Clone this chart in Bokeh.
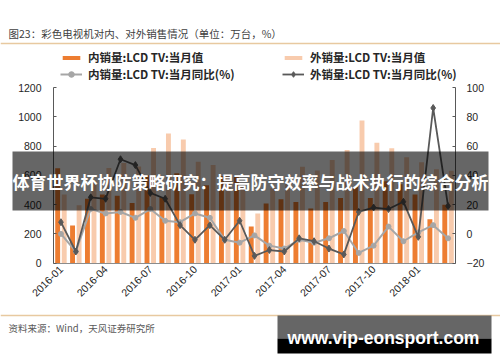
import math
from bokeh.plotting import figure
from bokeh.models import (Range1d, LinearAxis, FixedTicker, ColumnDataSource, Legend,
                          LegendItem, Label, BoxAnnotation)
from bokeh.transform import dodge
from bokeh.embed import file_html
from bokeh.resources import INLINE

months = ["2016-01", "2016-02", "2016-03", "2016-04", "2016-05", "2016-06", "2016-07",
          "2016-08", "2016-09", "2016-10", "2016-11", "2016-12", "2017-01", "2017-02",
          "2017-03", "2017-04", "2017-05", "2017-06", "2017-07", "2017-08", "2017-09",
          "2017-10", "2017-11", "2017-12", "2018-01", "2018-02", "2018-03"]
domestic = [648, 258, 440, 470, 460, 412, 600, 450, 615, 471, 533, 595, 590, 250,
            407, 437, 418, 373, 418, 446, 520, 446, 560, 540, 470, 300, 400]
export = [470, 395, 560, 650, 684, 660, 786, 885, 845, 693, 670, 600, 520, 340,
          512, 556, 658, 633, 705, 773, 974, 823, 785, 723, 690, 642, 631]
domestic_yoy = [0, -12, 17, 14, 15, 11, 17, 9, 8, 14, 11, -4, -6, -1,
                -8, -10, -4, -6, -3, 2, -13, -8, 5, -5, 1, 6, -3]
export_yoy = [8, -12, 25, 24, 51, 47, 28, 24, 6, -4, 6, -4, 9, -15,
              -11, -12, -3, -5, -10, -14, 15, 18, 17, 22, -2, 86, 19]
left_ticks = [0, 200, 400, 600, 800, 1000, 1200]
right_ticks = [-20, 0, 20, 40, 60, 80, 100]
label_months = ["2016-01", "2016-04", "2016-07", "2016-10", "2017-01",
                "2017-04", "2017-07", "2017-10", "2018-01"]

title_text = "图23：彩色电视机对内、对外销售情况（单位：万台，%）"
legend_labels = ["内销量:LCD TV:当月值", "外销量:LCD TV:当月值",
                 "内销量:LCD TV:当月同比(%)", "外销量:LCD TV:当月同比(%)"]
source_text = "资料来源：Wind，天风证券研究所"
banner_text = "体育世界杯协防策略研究：提高防守效率与战术执行的综合分析"
watermark_text = "www.vip-eonsport.com"

ORANGE = "#ED7D31"
PEACH = "#F8CBAD"
GRAY = "#A6A6A6"
DARK = "#595959"
RULE = "#E8C9A0"
LAT = "Liberation Sans"
CJK = "Noto Sans CJK SC"

W, H = 500, 362
OX, OY = 0, 0                    # page offset of the canvas
# plot area on the page
PL, PR, PT, PB = 53.0, 455.0, 87.0, 262.7
n = len(months)

def extend(lo, hi, a0, a1, total):
    # data range lo..hi occupies canvas pixels a0..a1 (a0 < a1); return range over 0..total
    ppu = (a1 - a0) / (hi - lo)
    return lo - a0 / ppu, hi + (total - a1) / ppu

xs, xe = extend(-0.5, n - 0.5, PL - OX, PR - OX, W)
ys, ye = extend(0, 1200, H - (PB - OY), H - (PT - OY), H)
rs, re_ = extend(-20, 100, H - (PB - OY), H - (PT - OY), H)

idx = list(range(n))
src = ColumnDataSource(dict(x=idx, dom=domestic, exp=export,
                            dyoy=domestic_yoy, eyoy=export_yoy))

p = figure(width=W, height=H, x_range=Range1d(xs, xe), y_range=Range1d(ys, ye),
           output_backend="svg", toolbar_location=None, title=None,
           min_border=0, min_border_left=0, min_border_right=0,
           min_border_top=0, min_border_bottom=0, x_axis_location=None,
           y_axis_location=None)
p.outline_line_color = None
p.grid.visible = False
p.background_fill_color = "white"
p.border_fill_color = "white"
p.extra_y_ranges = {"yoy": Range1d(rs, re_)}

vb1 = p.vbar(x=dodge("x", -0.22, range=p.x_range), top="dom", width=0.33, source=src,
             fill_color=ORANGE, line_color=None)
vb2 = p.vbar(x=dodge("x", 0.22, range=p.x_range), top="exp", width=0.33, source=src,
             fill_color=PEACH, line_color=None)

gl = p.line("x", "dyoy", source=src, y_range_name="yoy", line_color=GRAY, line_width=2)
gs = p.scatter("x", "dyoy", source=src, y_range_name="yoy", marker="circle", size=5,
               fill_color=GRAY, line_color=GRAY)
dl = p.line("x", "eyoy", source=src, y_range_name="yoy", line_color=DARK, line_width=1.8)
ds = p.scatter("x", "eyoy", source=src, y_range_name="yoy", marker="diamond", size=7,
               fill_color=DARK, line_color=DARK)

def style(ax, standoff):
    ax.minor_tick_line_color = None
    ax.major_label_standoff = standoff
    ax.major_label_text_font = LAT
    ax.major_label_text_font_size = "10.5px"
    ax.major_label_text_color = "#262626"

# axes, fixed at the plot-area edges
xa = LinearAxis(fixed_location=0, bounds=(-0.5, n - 0.5),
                ticker=FixedTicker(ticks=[months.index(m) for m in label_months]))
xa.major_label_overrides = {months.index(m): m for m in label_months}
xa.major_label_orientation = math.pi / 4
xa.major_tick_in = 0
xa.major_tick_out = 0
xa.axis_line_color = "#8C8C8C"
style(xa, 4)
p.add_layout(xa, "below")

ya = LinearAxis(fixed_location=-0.5, bounds=(0, 1200), ticker=FixedTicker(ticks=left_ticks))
ya.major_tick_in = 3
ya.major_tick_out = 0
ya.axis_line_color = "#595959"
ya.major_tick_line_color = "#595959"
style(ya, 12)
p.add_layout(ya, "left")

ra = LinearAxis(y_range_name="yoy", fixed_location=n - 0.5, bounds=(-20, 100),
                ticker=FixedTicker(ticks=right_ticks))
ra.major_tick_in = 3
ra.major_tick_out = 0
ra.axis_line_color = "#595959"
ra.major_tick_line_color = "#595959"
style(ra, 11)
p.add_layout(ra, "right")

# page -> frame-relative screen coordinates
def sx(X):
    return X - OX
def sy(Y):
    return H - (Y - OY)

def make_legend(items, y_center, gh):
    lg = Legend(items=items, orientation="horizontal",
                location=(sx(60), sy(y_center) - 8),
                glyph_width=22, glyph_height=gh, label_standoff=6, spacing=0,
                label_width=194, label_height=gh, padding=0, margin=0,
                border_line_alpha=0, background_fill_alpha=0,
                label_text_font=CJK, label_text_font_size="11.5px",
                label_text_font_style="bold", label_text_color="#262626")
    return lg

lg1 = make_legend([LegendItem(label=legend_labels[0], renderers=[vb1]),
                   LegendItem(label=legend_labels[1], renderers=[vb2])], 57, 5)
lg2 = make_legend([LegendItem(label=legend_labels[2], renderers=[gl, gs]),
                   LegendItem(label=legend_labels[3], renderers=[dl, ds])], 74, 14)
p.add_layout(lg1)
p.add_layout(lg2)

def box(x0, x1, y0, y1, color, alpha=1.0):
    b = BoxAnnotation(left=sx(x0), right=sx(x1), top=sy(y0), bottom=sy(y1),
                      left_units="screen", right_units="screen",
                      top_units="screen", bottom_units="screen",
                      fill_color=color, fill_alpha=alpha, line_color=None)
    p.add_layout(b)
    return b

# rules
box(0, 500, 42.2, 43.7, RULE)
box(0, 500, 314.3, 315.8, RULE)

# title
p.add_layout(Label(x=sx(8), y=sy(33), x_units="screen", y_units="screen", text=title_text,
                   text_font=CJK, text_font_size="10.5px", text_color="#404040",
                   text_baseline="middle", text_align="left"))
# source
p.add_layout(Label(x=sx(8), y=sy(327), x_units="screen", y_units="screen", text=source_text,
                   text_font=CJK, text_font_size="9.5px", text_color="#595959",
                   text_baseline="middle", text_align="left"))

# banner overlay
box(12, 488, 151, 210, "black", 0.6)
p.add_layout(Label(x=sx(250), y=sy(181), x_units="screen", y_units="screen",
                   text=banner_text, text_font=CJK, text_font_size="17px",
                   text_font_style="bold", text_color="white",
                   text_baseline="middle", text_align="center"))

# watermark
box(277, 491, 315, 338, "#666666")
box(277, 491, 338, 353, "black")
p.add_layout(Label(x=sx(383), y=sy(337), x_units="screen", y_units="screen",
                   text=watermark_text, text_font=LAT, text_font_size="17.5px",
                   text_font_style="bold", text_color="white",
                   text_baseline="middle", text_align="center"))

open("out.html", "w").write(file_html(p, INLINE))
